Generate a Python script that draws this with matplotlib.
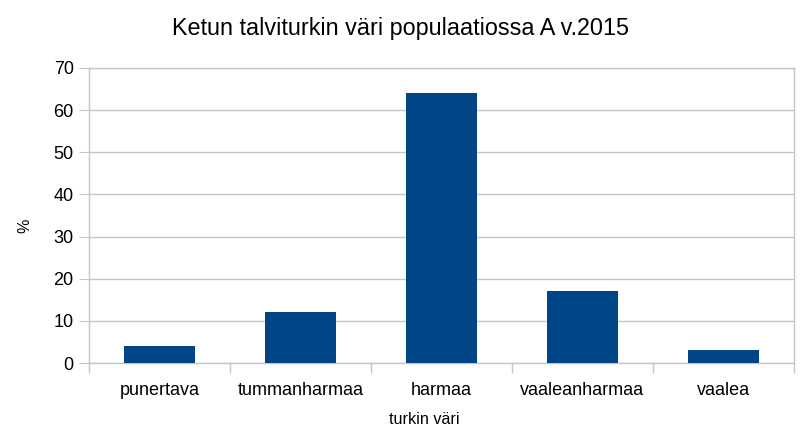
import matplotlib
matplotlib.use("Agg")
import matplotlib.pyplot as plt
import numpy as np

categories = ["punertava", "tummanharmaa", "harmaa", "vaaleanharmaa", "vaalea"]
values = [4, 12, 64, 17, 3]

plt.rcParams["font.family"] = ["Liberation Sans", "DejaVu Sans"]

fig = plt.figure(figsize=(8, 4.37), dpi=100)
ax = fig.add_axes([89 / 800, 1 - 363 / 437, (794 - 89) / 800, (363 - 68) / 437])

x = np.arange(len(categories))
ax.bar(x, values, width=0.5, color="#004586", zorder=3)

grid_col = "#c6c6c6"
ax.set_xlim(-0.5, len(categories) - 0.5)
ax.set_ylim(0, 70)
ax.set_yticks(range(0, 71, 10))
ax.set_xticks(x)
ax.set_xticklabels(categories, fontsize=13)
ax.set_xticks(np.arange(-0.5, len(categories), 1), minor=True)
ax.tick_params(axis="x", which="major", length=0, pad=14)
ax.tick_params(axis="x", which="minor", length=7, color=grid_col, width=1)
ax.tick_params(axis="y", length=7, color=grid_col, labelsize=13, pad=4)

ax.grid(axis="y", color=grid_col, linewidth=1, zorder=0)
for s in ax.spines.values():
    s.set_color(grid_col)
    s.set_linewidth(1)

fig.text(0.5, 1 - 28 / 437, "Ketun talviturkin väri populaatiossa A v.2015",
         fontsize=16.8, ha="center", va="center")
ax.set_xlabel("turkin väri", fontsize=11.6)
ax.xaxis.set_label_coords(0.476, -0.193)
ax.xaxis.label.set_va("center")
ax.set_ylabel("%", fontsize=11.6)
ax.yaxis.set_label_coords(-0.0908, 0.464)
ax.yaxis.label.set_va("center")

fig.savefig("out.png", dpi=100)
